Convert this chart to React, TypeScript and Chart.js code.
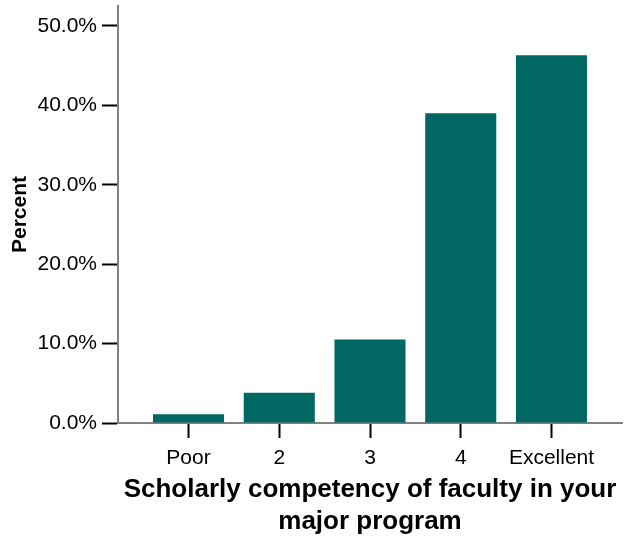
import React, { useEffect, useRef } from "react";
import { Chart, registerables } from "chart.js";

Chart.register(...registerables);

const categories: string[] = ["Poor", "2", "3", "4", "Excellent"];
const percentValues: number[] = [1.1, 3.8, 10.5, 39.0, 46.3];
const yTickValues: number[] = [0, 10, 20, 30, 40, 50];
const xTitleLines: string[] = ["Scholarly competency of faculty in your", "major program"];
const yTitle = "Percent";

const FONT = "'Liberation Sans', Arial, Helvetica, sans-serif";

export default function App() {
  const ref = useRef<HTMLCanvasElement | null>(null);

  useEffect(() => {
    if (!ref.current) return;
    const chart = new Chart(ref.current, {
      type: "bar",
      data: {
        datasets: [
          {
            label: yTitle,
            data: categories.map((_, i) => ({ x: i, y: percentValues[i] })),
            backgroundColor: "#006763",
            borderWidth: 0,
            categoryPercentage: 1,
            barPercentage: 0.783,
          },
        ],
      },
      options: {
        animation: false,
        responsive: false,
        devicePixelRatio: 1,
        layout: { padding: { left: 0, top: 6, right: 5, bottom: 0 } },
        plugins: { legend: { display: false }, tooltip: { enabled: false } },
        scales: {
          x: {
            type: "linear",
            offset: false,
            min: -0.777,
            max: categories.length - 1 + 0.777,
            afterBuildTicks: (scale: any) => {
              scale.ticks = categories.map((_, i) => ({ value: i }));
            },
            afterFit: (scale: any) => {
              scale.height = 118;
              scale.paddingLeft = 0;
              scale.paddingRight = 0;
            },
            grid: {
              offset: false,
              drawOnChartArea: false,
              drawTicks: true,
              tickLength: 15,
              tickColor: "#000000",
              tickWidth: 2,
            },
            border: { display: true, color: "#808080", width: 2 },
            ticks: {
              autoSkip: false,
              maxRotation: 0,
              padding: 8,
              color: "#000000",
              font: { family: FONT, size: 21 },
              callback: (value: any) => categories[Number(value)] ?? "",
            },
            title: {
              display: true,
              text: xTitleLines,
              color: "#000000",
              font: { family: FONT, size: 26, weight: "bold", lineHeight: 1.2 },
              padding: { top: 0, bottom: 4 },
            },
          },
          y: {
            type: "linear",
            min: 0,
            max: 52.5,
            afterBuildTicks: (scale: any) => {
              scale.ticks = yTickValues.map((v) => ({ value: v }));
            },
            afterFit: (scale: any) => {
              scale.width = 118;
              scale.paddingTop = 0;
              scale.paddingBottom = 0;
            },
            grid: {
              drawOnChartArea: false,
              drawTicks: true,
              tickLength: 16,
              tickColor: "#000000",
              tickWidth: 2,
            },
            border: { display: true, color: "#808080", width: 2 },
            ticks: {
              padding: 5,
              color: "#000000",
              font: { family: FONT, size: 21 },
              callback: (value: any) => Number(value).toFixed(1) + "%",
            },
            title: {
              display: true,
              text: yTitle,
              color: "#000000",
              font: { family: FONT, size: 21, weight: "bold", lineHeight: 1.2 },
              padding: { top: 8, bottom: 0 },
            },
          },
        },
      },
    } as any);
    return () => chart.destroy();
  }, []);

  return (
    <div style={{ position: "absolute", left: 0, top: 0, width: 627, height: 541 }}>
      <canvas ref={ref} width={627} height={541} />
    </div>
  );
}
